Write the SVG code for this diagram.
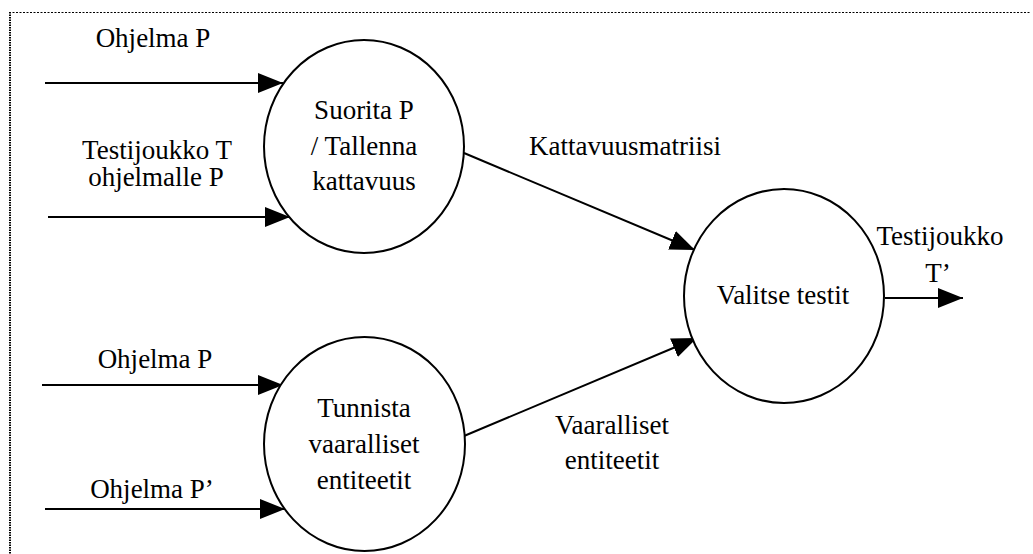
<svg xmlns="http://www.w3.org/2000/svg" width="1033" height="554" viewBox="0 0 1033 554">
  <style>
    .node { fill: #ffffff; stroke: #000000; stroke-width: 2; }
    .flow { fill: none; stroke: #000000; stroke-width: 2; marker-end: url(#head); }
    .lbl { font-family: "Liberation Serif", "Times New Roman", serif; font-size: 27px; fill: #000000; text-anchor: middle; }
  </style>
  <defs>
    <marker id="head" markerUnits="userSpaceOnUse" markerWidth="26" markerHeight="22" refX="25" refY="10" orient="auto">
      <path d="M0,0 L25,10 L0,20 Z" fill="#000000"/>
    </marker>
  </defs>

  <rect width="1033" height="554" fill="#ffffff"/>

  <!-- frame -->
  <g id="frame" fill="none" stroke="#000000">
    <line x1="9" y1="12.5" x2="1031" y2="12.5" stroke-width="1" stroke-dasharray="2 1.5"/>
    <line x1="10" y1="12" x2="10" y2="554" stroke-width="2" stroke-dasharray="1.5 1"/>
  </g>

  <!-- connectors -->
  <g id="connectors">
    <line class="flow" x1="45" y1="83" x2="283" y2="83"/>
    <line class="flow" x1="48" y1="217" x2="290" y2="217"/>
    <line class="flow" x1="42" y1="385" x2="283" y2="385"/>
    <line class="flow" x1="45" y1="509" x2="285" y2="509"/>
    <line class="flow" x1="464" y1="153" x2="695" y2="250"/>
    <line class="flow" x1="464" y1="436" x2="697" y2="338"/>
    <line class="flow" x1="885" y1="298" x2="963" y2="298"/>
  </g>

  <!-- connector labels -->
  <g id="labels">
    <text class="lbl" x="153" y="47">Ohjelma P</text>
    <text class="lbl" x="157" y="159">Testijoukko T</text>
    <text class="lbl" x="156" y="186">ohjelmalle P</text>
    <text class="lbl" x="155" y="368">Ohjelma P</text>
    <text class="lbl" x="152" y="498">Ohjelma P’</text>
    <text class="lbl" x="625" y="155">Kattavuusmatriisi</text>
    <text class="lbl" x="612" y="434">Vaaralliset</text>
    <text class="lbl" x="612" y="469">entiteetit</text>
    <text class="lbl" x="940" y="245">Testijoukko</text>
    <text class="lbl" x="938" y="282">T’</text>
  </g>

  <!-- processes -->
  <g id="suorita">
    <ellipse class="node" cx="364" cy="146.5" rx="100" ry="106.5"/>
    <text class="lbl" x="364" y="119">Suorita P</text>
    <text class="lbl" x="364" y="155">/ Tallenna</text>
    <text class="lbl" x="364" y="190">kattavuus</text>
  </g>

  <g id="tunnista">
    <ellipse class="node" cx="364.5" cy="444" rx="100.5" ry="107"/>
    <text class="lbl" x="364" y="417">Tunnista</text>
    <text class="lbl" x="364" y="453">vaaralliset</text>
    <text class="lbl" x="364" y="489">entiteetit</text>
  </g>

  <g id="valitse">
    <ellipse class="node" cx="784" cy="296" rx="100" ry="107"/>
    <text class="lbl" x="783" y="304">Valitse testit</text>
  </g>
</svg>
